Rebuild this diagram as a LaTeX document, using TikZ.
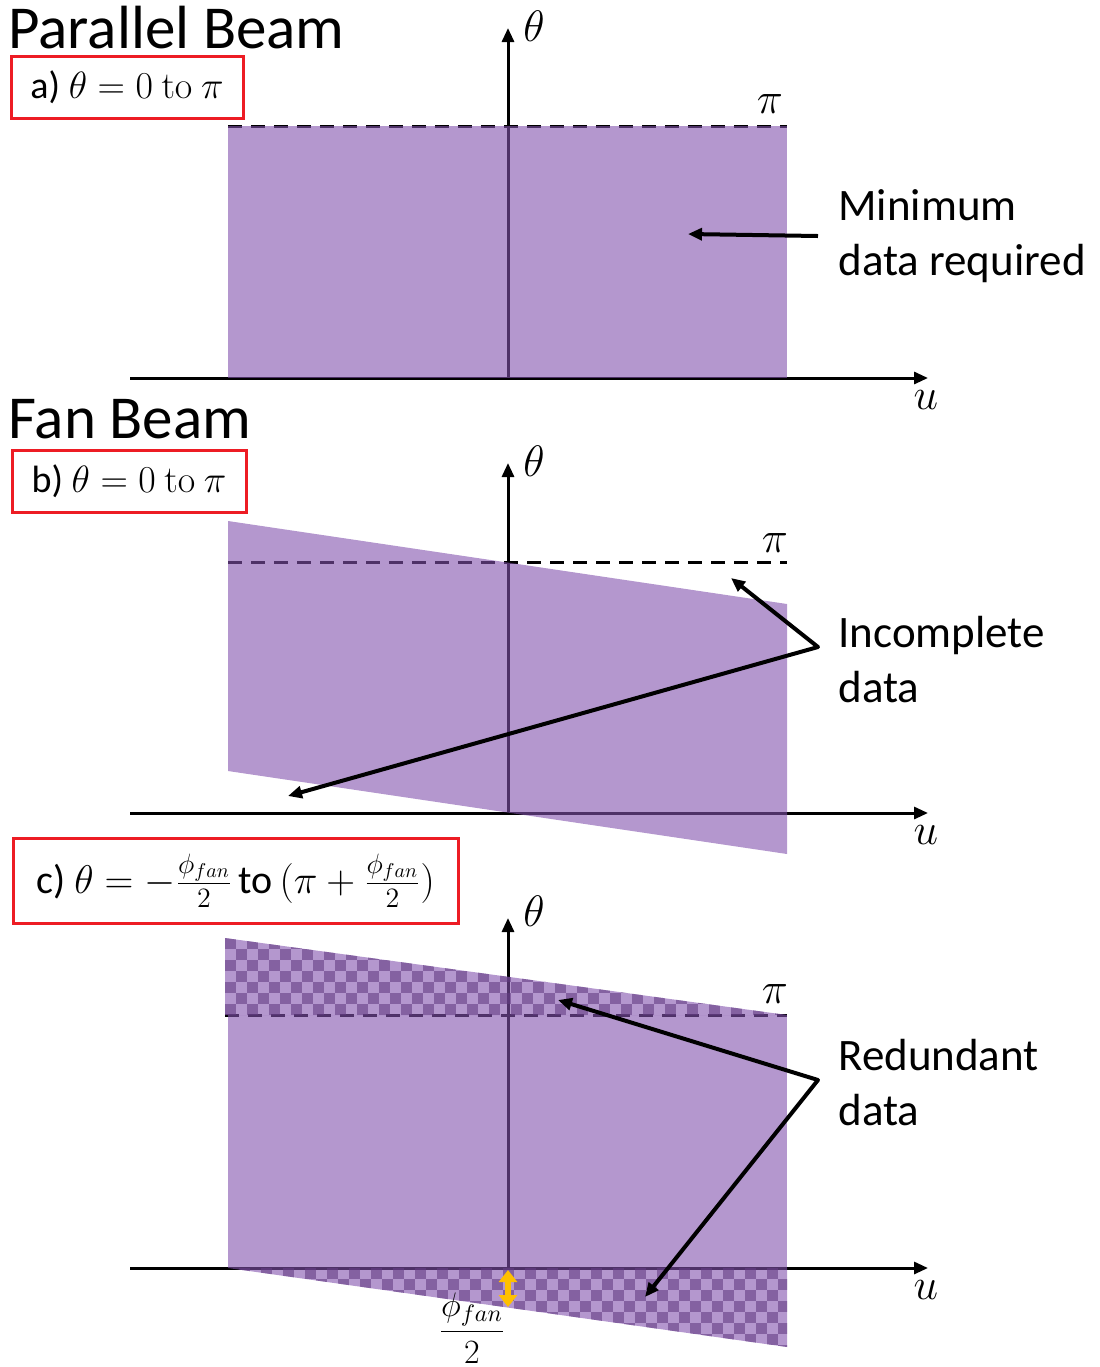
\RequirePackage{fix-cm}
\documentclass[tikz,border=0pt]{standalone}
\usepackage{amsmath}
\usepackage[no-math]{fontspec}
\setmainfont{Carlito}
\usepackage{tikz}
\usetikzlibrary{arrows.meta}
\definecolor{fanPurple}{RGB}{130,82,173}
\definecolor{fanDark}{RGB}{100,62,132}
\definecolor{boxRed}{RGB}{237,28,36}
\definecolor{phiOrange}{RGB}{255,192,0}

\begin{document}
\begin{tikzpicture}[
    x=0.5pt, y=-0.5pt,
    axisline/.style={line width=1.5pt, -{Triangle[length=7pt,width=6pt]}},
    piline/.style={line width=1.5pt, dash pattern=on 7pt off 4.5pt},
    region/.style={fill=fanPurple, fill opacity=0.6},
    checker/.style={fill=fanDark, fill opacity=0.6},
    note/.style={line width=2pt, -{Triangle[length=7pt,width=6pt]}},
    fork/.style={line width=2pt, line join=round,
                 {Triangle[length=7pt,width=6pt]}-{Triangle[length=7pt,width=6pt]}},
    heading/.style={anchor=base west, inner sep=0pt, font=\fontsize{30.5}{37}\selectfont},
    casebox/.style={draw=boxRed, line width=1.5pt, inner sep=0pt,
                    font=\fontsize{19}{23}\selectfont},
    axlabel/.style={inner sep=0pt, font=\fontsize{22}{26}\selectfont},
    callout/.style={anchor=west, inner sep=0pt, align=left,
                    font=\fontsize{22.5}{27.5}\selectfont}
  ]
    \useasboundingbox (0,0) rectangle (1099,1367);

    % a) parallel beam
    \draw[axisline] (130,378) -- (928,378);
    \draw[axisline] (508,378) -- (508,28);
    \draw[piline] (228,126) -- (787,126);
    \fill[region] (228,126) rectangle (787,378);
    \node[axlabel] (THa) at (534,26) {$\theta$};
    \node[axlabel] (PIa) at (770,104) {$\pi$};
    \node[axlabel] (Ua) at (926,400) {$u$};
    \node[heading] (PB) at (8,48) {Parallel Beam};
    \node[casebox, minimum width=116pt, minimum height=31pt] (CA) at (127,87)
      {a) $\theta = 0\ \mathrm{to}\ \pi$};
    \node[callout] (MIN) at (838,236) {Minimum\\data required};
    \coordinate (MINtip) at (688,234);
    \draw[note] ([xshift=-10pt]MIN.west) -- (MINtip);

    % b) fan beam, short scan
    \draw[axisline] (130,813) -- (928,813);
    \draw[axisline] (508,813) -- (508,463);
    \draw[piline] (228,562) -- (787,562);
    \fill[region] (228,521) -- (787,604) -- (787,854) -- (228,771) -- cycle;
    \node[axlabel] (THb) at (534,461) {$\theta$};
    \node[axlabel] (PIb) at (775,543) {$\pi$};
    \node[axlabel] (Ub) at (926,835) {$u$};
    \node[heading] (FB) at (8,438) {Fan Beam};
    \node[casebox, minimum width=117pt, minimum height=31pt] (CB) at (129,481)
      {b) $\theta = 0\ \mathrm{to}\ \pi$};
    \node[callout] (INC) at (838,660) {Incomplete\\data};
    \coordinate (INCk) at ([xshift=-10pt, yshift=6.5pt]INC.west);
    \coordinate (INCtop) at (731,578);
    \coordinate (INCbot) at (288,796);
    \draw[fork] (INCtop) -- (INCk) -- (INCbot);

    % c) fan beam, extended scan
    \draw[axisline] (130,1268) -- (928,1268);
    \draw[axisline] (508,1268) -- (508,918);
    \draw[piline] (225,1015) -- (787,1015);
    \fill[region] (228,1015) rectangle (787,1268);
    \fill[region] (225,938) -- (787,1015) -- (225,1015) -- cycle;
    \fill[region] (228,1268) -- (787,1268) -- (787,1347) -- cycle;
    \begin{scope}
      \clip (225,938) -- (787,1015) -- (225,1015) -- cycle;
      \foreach \j in {0,...,6}
        \foreach \i in {0,2,...,50}
          \fill[checker] ({225+(\i+mod(\j,2))*11},{938+\j*11}) rectangle +(11,11);
    \end{scope}
    \begin{scope}
      \clip (228,1268) -- (787,1268) -- (787,1347) -- cycle;
      \foreach \j in {0,...,7}
        \foreach \i in {0,2,...,50}
          \fill[checker] ({228+(\i+mod(\j+1,2))*11},{1268+\j*11}) rectangle +(11,11);
    \end{scope}
    \draw[line width=3pt, phiOrange,
          {Triangle[length=6pt,width=9pt]}-{Triangle[length=6pt,width=9pt]}]
      (508,1270) -- (508,1307);
    \node[inner sep=0pt, font=\fontsize{17}{20}\selectfont] (PHI) at (472,1328)
      {$\dfrac{\phi_{fan}}{2}$};
    \node[axlabel] (THc) at (534,911) {$\theta$};
    \node[axlabel] (PIc) at (775,994) {$\pi$};
    \node[axlabel] (Uc) at (926,1290) {$u$};
    \node[casebox, minimum width=222.5pt, minimum height=42.5pt, font=\fontsize{20}{24}\selectfont]
      (CC) at (235.5,880.5)
      {c) $\theta = -\frac{\phi_{fan}}{2}\,\text{to}\,(\pi + \frac{\phi_{fan}}{2})$};
    \node[callout] (RED) at (838,1083) {Redundant\\data};
    \coordinate (REDk) at ([xshift=-10pt, yshift=1.5pt]RED.west);
    \coordinate (REDtop) at (558,1000);
    \coordinate (REDbot) at (645,1297);
    \draw[fork] (REDtop) -- (REDk) -- (REDbot);
\end{tikzpicture}
\end{document}
